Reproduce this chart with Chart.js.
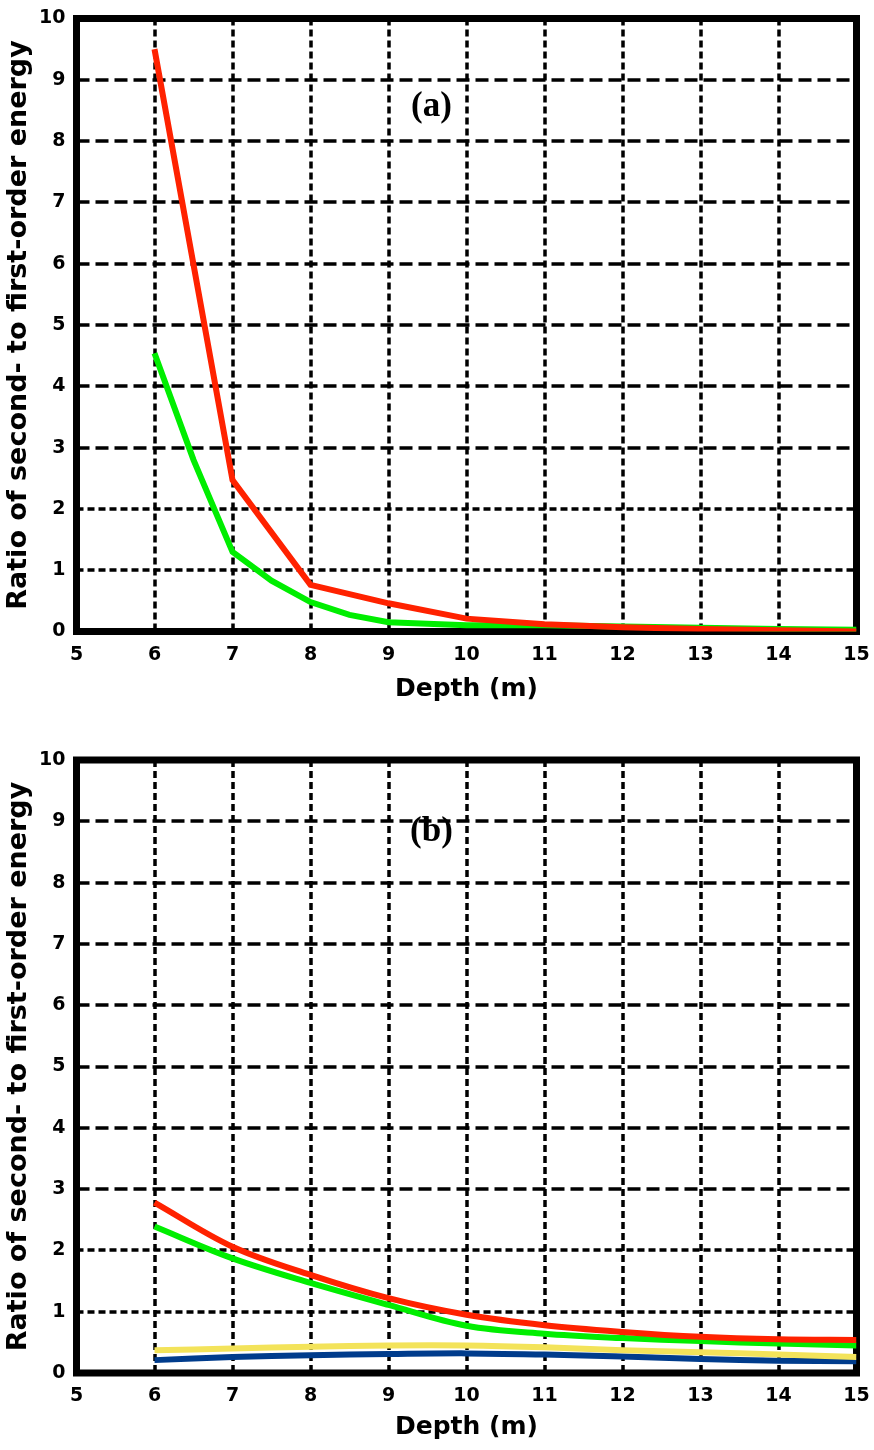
<!DOCTYPE html>
<html><head><meta charset="utf-8">
<script src="https://cdn.jsdelivr.net/npm/chart.js@4"></script>
<style>html,body{margin:0;padding:0;background:#fff;} canvas{display:block;}</style>
</head><body>
<canvas id="c1" width="874" height="740"></canvas>
<canvas id="c2" width="874" height="710"></canvas>
<script>
// ---- data ----
const depths = [6, 7, 8, 9, 10, 11, 12, 13, 14, 15];
const redA = [9.5, 2.47, 0.76, 0.46, 0.21, 0.12, 0.07, 0.04, 0.02, 0.0];
const greenADepths = [6, 6.5, 7, 7.5, 8, 8.5, 9, 10, 11, 12, 13, 14, 15];
const greenA = [4.54, 2.8, 1.3, 0.83, 0.48, 0.27, 0.15, 0.1, 0.1, 0.08, 0.06, 0.04, 0.03];
const redB = [2.78, 2.06, 1.6, 1.22, 0.95, 0.78, 0.67, 0.59, 0.55, 0.54];
const greenB = [2.39, 1.87, 1.47, 1.11, 0.77, 0.64, 0.57, 0.52, 0.48, 0.45];
const yellowB = [0.37, 0.40, 0.43, 0.45, 0.45, 0.42, 0.37, 0.34, 0.30, 0.26];
const blueB = [0.21, 0.26, 0.29, 0.31, 0.32, 0.30, 0.27, 0.23, 0.20, 0.19];
const xRange = [5, 15];
const yRange = [0, 10];
const xTitle = 'Depth (m)';
const yTitle = 'Ratio of second- to first-order energy';
const panelLabels = ['(a)', '(b)'];

const toPts = (xs, ys) => xs.map((x, i) => ({x: x, y: ys[i]}));
const FONT = 'DejaVu Sans';

const framePlugin = {
  id: 'frame',
  beforeDatasetsDraw(chart, args, opts) {
    const {ctx, chartArea: a, scales: {x, y}} = chart;
    ctx.save();
    ctx.strokeStyle = '#000';
    ctx.lineWidth = 3.5;
    ctx.setLineDash([7, 4]);
    x.ticks.forEach(t => {
      if (t.value <= x.min || t.value >= x.max) return;
      const px = Math.round(x.getPixelForValue(t.value));
      ctx.beginPath(); ctx.moveTo(px, a.top); ctx.lineTo(px, a.bottom); ctx.stroke();
    });
    y.ticks.forEach(t => {
      if (t.value <= y.min || t.value >= y.max) return;
      const py = Math.round(y.getPixelForValue(t.value));
      ctx.setLineDash(t.value <= 2 ? [7, 4] : [13, 6]);
      ctx.beginPath(); ctx.moveTo(a.left, py); ctx.lineTo(a.right, py); ctx.stroke();
    });
    ctx.setLineDash([]);
    ctx.lineWidth = 7;
    ctx.strokeRect(a.left, a.top, a.right - a.left, a.bottom - a.top);
    ctx.fillStyle = '#000';
    ctx.font = 'bold 35px "Liberation Serif"';
    ctx.textAlign = 'center';
    ctx.textBaseline = 'middle';
    ctx.fillText(opts.text, x.getPixelForValue(opts.lx), y.getPixelForValue(opts.ly));
    ctx.restore();
  }
};

function makeChart(id, datasets, label, ly, pad, xH, titlePad) {
  return new Chart(document.getElementById(id), {
    type: 'line',
    data: {datasets: datasets},
    plugins: [framePlugin],
    options: {
      responsive: false, animation: false, devicePixelRatio: 1,
      layout: {padding: pad},
      plugins: {legend: {display: false}, tooltip: {enabled: false},
        frame: {text: label, lx: 9.55, ly: ly}},
      elements: {point: {radius: 0}},
      scales: {
        x: {type: 'linear', min: xRange[0], max: xRange[1],
          ticks: {stepSize: 1, autoSkip: false, maxRotation: 0, color: '#000', padding: 12,
            font: {family: FONT, weight: 'bold', size: 19}},
          grid: {display: false, drawTicks: false}, border: {display: false},
          title: {display: true, text: xTitle, color: '#000', padding: {top: 0, bottom: titlePad},
            font: {family: FONT, weight: 'bold', size: 25, lineHeight: 1.2}},
          afterFit(s) { s.height = xH; s.paddingLeft = 0; s.paddingRight = 0; }
        },
        y: {type: 'linear', min: yRange[0], max: yRange[1],
          ticks: {stepSize: 1, autoSkip: false, color: '#000', padding: 11,
            font: {family: FONT, weight: 'bold', size: 19}},
          grid: {display: false, drawTicks: false}, border: {display: false},
          title: {display: true, text: yTitle, color: '#000', padding: {top: 3, bottom: 0},
            font: {family: FONT, weight: 'bold', size: 27, lineHeight: 1.2}},
          afterFit(s) { s.width = 76.5; s.paddingTop = 0; s.paddingBottom = 0; }
        }
      }
    }
  });
}

makeChart('c1', [
  {data: toPts(depths, redA), borderColor: '#ff2200', borderWidth: 6, tension: 0, fill: false},
  {data: toPts(greenADepths, greenA), borderColor: '#00ee00', borderWidth: 6, tension: 0, fill: false}
], panelLabels[0], 8.55, {left: 0, right: 17.5, top: 18.5, bottom: 28.5}, 80, 7);

makeChart('c2', [
  {data: toPts(depths, redB), borderColor: '#ff2200', borderWidth: 6, tension: 0.35, fill: false},
  {data: toPts(depths, greenB), borderColor: '#00ee00', borderWidth: 6, tension: 0.35, fill: false},
  {data: toPts(depths, yellowB), borderColor: '#f3e35a', borderWidth: 6, tension: 0.3, fill: false},
  {data: toPts(depths, blueB), borderColor: '#003c8c', borderWidth: 6, tension: 0.3, fill: false}
], panelLabels[1], 8.82, {left: 0, right: 17.5, top: 20, bottom: 5}, 72, 2.6);
</script>
</body></html>
